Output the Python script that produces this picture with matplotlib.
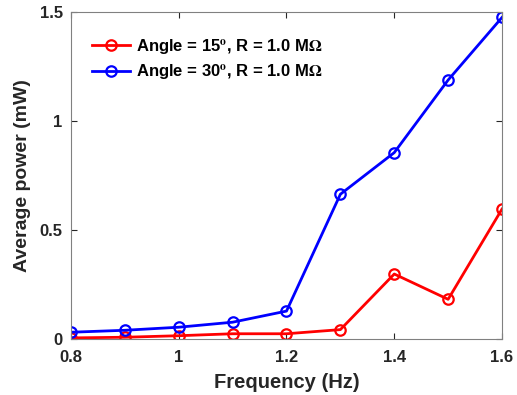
import matplotlib
matplotlib.use("Agg")
import matplotlib.pyplot as plt

# data
freq_hz = [0.8, 0.9, 1.0, 1.1, 1.2, 1.3, 1.4, 1.5, 1.6]
power_15deg = [0.005, 0.008, 0.015, 0.024, 0.024, 0.043, 0.298, 0.182, 0.596]
power_30deg = [0.031, 0.040, 0.054, 0.077, 0.128, 0.664, 0.855, 1.188, 1.475]
labels = [r"Angle = 15$^{\mathbf{o}}$, R = 1.0 M$\mathrm{\Omega}$",
          r"Angle = 30$^{\mathbf{o}}$, R = 1.0 M$\mathrm{\Omega}$"]
xticks = [0.8, 1.0, 1.2, 1.4, 1.6]
xticklabels = ["0.8", "1", "1.2", "1.4", "1.6"]
yticks = [0, 0.5, 1.0, 1.5]
yticklabels = ["0", "0.5", "1", "1.5"]

plt.rcParams["font.family"] = ["Liberation Sans", "DejaVu Sans"]
plt.rcParams["font.weight"] = "bold"
plt.rcParams["mathtext.fontset"] = "stix"

fig = plt.figure(figsize=(5.17, 3.95), dpi=100)
ax = fig.add_axes([0.1373, 0.1418, 0.8337, 0.8278])

ax.plot(freq_hz, power_15deg, color="#ff0000", lw=2, marker="o", ms=7.5,
        mfc="none", mew=1.6, label=labels[0])
ax.plot(freq_hz, power_30deg, color="#0000ff", lw=2, marker="o", ms=7.5,
        mfc="none", mew=1.6, label=labels[1])

ax.set_xlim(0.8, 1.6)
ax.set_ylim(0, 1.5)
ax.set_xticks(xticks)
ax.set_xticklabels(xticklabels)
ax.set_yticks(yticks)
ax.set_yticklabels(yticklabels)
ax.tick_params(direction="in", top=True, right=True, labelsize=12,
               length=4, color="#262626")
ax.tick_params(axis="x", pad=8)
ax.tick_params(axis="y", pad=6)
for lab in ax.get_xticklabels() + ax.get_yticklabels():
    lab.set_fontweight("bold")
    lab.set_color("#262626")
for sp in ax.spines.values():
    sp.set_color("#808080")
    sp.set_linewidth(0.8)

ax.set_xlabel("Frequency (Hz)", fontsize=14.5, fontweight="bold", color="#262626", labelpad=6)
ax.set_ylabel("Average power (mW)", fontsize=14, fontweight="bold", color="#262626", labelpad=6)

leg = ax.legend(loc="upper left", frameon=False, fontsize=12,
                handlelength=2.3, handletextpad=0.35, borderaxespad=0.6,
                labelspacing=0.35, bbox_to_anchor=(0.01, 0.975))
for t in leg.get_texts():
    t.set_fontweight("bold")

fig.savefig("out.png", dpi=100)
